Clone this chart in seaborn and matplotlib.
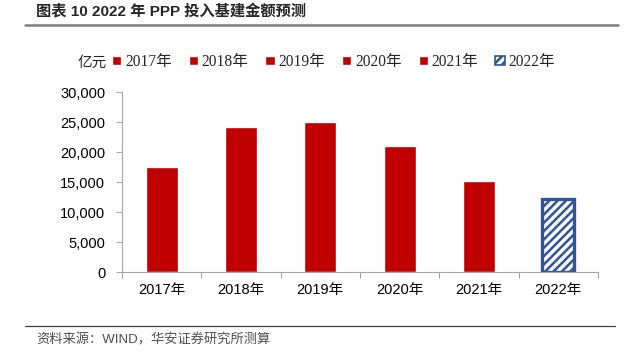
import matplotlib
matplotlib.use('Agg')
import matplotlib.pyplot as plt
import seaborn as sns
from matplotlib.lines import Line2D

# 데이터
years = ['2017年', '2018年', '2019年', '2020年', '2021年', '2022年']
invest = [17500, 24200, 24950, 20950, 15170, 12170]
yticks = [0, 5000, 10000, 15000, 20000, 25000, 30000]

red = '#C00000'
blue = '#2F5597'

sns.set_theme(style='white')
plt.rcParams['font.family'] = ['Liberation Sans', 'Noto Sans CJK SC', 'DejaVu Sans']
plt.rcParams['hatch.linewidth'] = 1.8
plt.rcParams['hatch.color'] = blue

fig = plt.figure(figsize=(6.36, 3.53), dpi=100)
ax = fig.add_axes([122 / 636, 1 - 272 / 353, 476 / 636, 180 / 353])

sns.barplot(x=years, y=invest, hue=years, palette=[red] * 5 + ['white'],
            width=0.4, saturation=1, legend=False, ax=ax)

# 2022년 예측 막대: 빗금
last = ax.containers[-1].patches[0]
last.set_hatch('////')
last.set_edgecolor(blue)
last.set_linewidth(2.4)

ax.set_xlim(-0.5, 5.5)
ax.set_ylim(0, 30000)
ax.set_yticks(yticks)
ax.set_yticklabels([f'{v:,}' for v in yticks], fontsize=10.5, color='black')
ax.set_xticks(range(len(years)))
ax.set_xticklabels(years, fontsize=10.5, color='black')
ax.set_xticks([i - 0.5 for i in range(len(years) + 1)], minor=True)
ax.tick_params(axis='x', which='major', length=0, pad=8)
ax.tick_params(axis='x', which='minor', length=4, width=0.8, color='#A6A6A6', bottom=True)
ax.tick_params(axis='y', length=4, width=0.8, color='#A6A6A6', left=True, pad=8)
for s in ['top', 'right']:
    ax.spines[s].set_visible(False)
for s in ['left', 'bottom']:
    ax.spines[s].set_color('#A6A6A6')
    ax.spines[s].set_linewidth(0.8)
ax.set_xlabel('')
ax.set_ylabel('')

# 범례
handles = [c.patches[0] for c in ax.containers]
leg = fig.legend(handles, years, loc='center left', bbox_to_anchor=(112 / 636, 1 - 62 / 353),
                 ncol=6, frameon=False, handlelength=0.6, handleheight=0.6,
                 handletextpad=0.25, columnspacing=1.08, borderpad=0, borderaxespad=0,
                 prop={'family': ['Liberation Serif', 'Noto Sans CJK SC'], 'size': 11.2})
for h in leg.legend_handles[-1:]:
    h.set_linewidth(1.2)
fig.text(78 / 636, 1 - 63 / 353, '亿元', fontsize=10.5, va='center', ha='left',
         family=['Noto Sans CJK SC'])

# 제목과 출처
fig.text(36 / 636, 1 - 12 / 353, '图表 10 2022 年 PPP 投入基建金额预测', fontsize=11,
         fontweight='bold', va='center', ha='left')
fig.add_artist(Line2D([25 / 636, 618 / 636], [1 - 25 / 353] * 2, color='#7F7F7F', lw=1.8))
fig.add_artist(Line2D([25 / 636, 615 / 636], [1 - 326 / 353] * 2, color='#404040', lw=0.9))
fig.text(36 / 636, 1 - 340 / 353, '资料来源：WIND，华安证券研究所测算', fontsize=9.5,
         color='#505050', va='center', ha='left')

fig.savefig('out.png', dpi=100)
